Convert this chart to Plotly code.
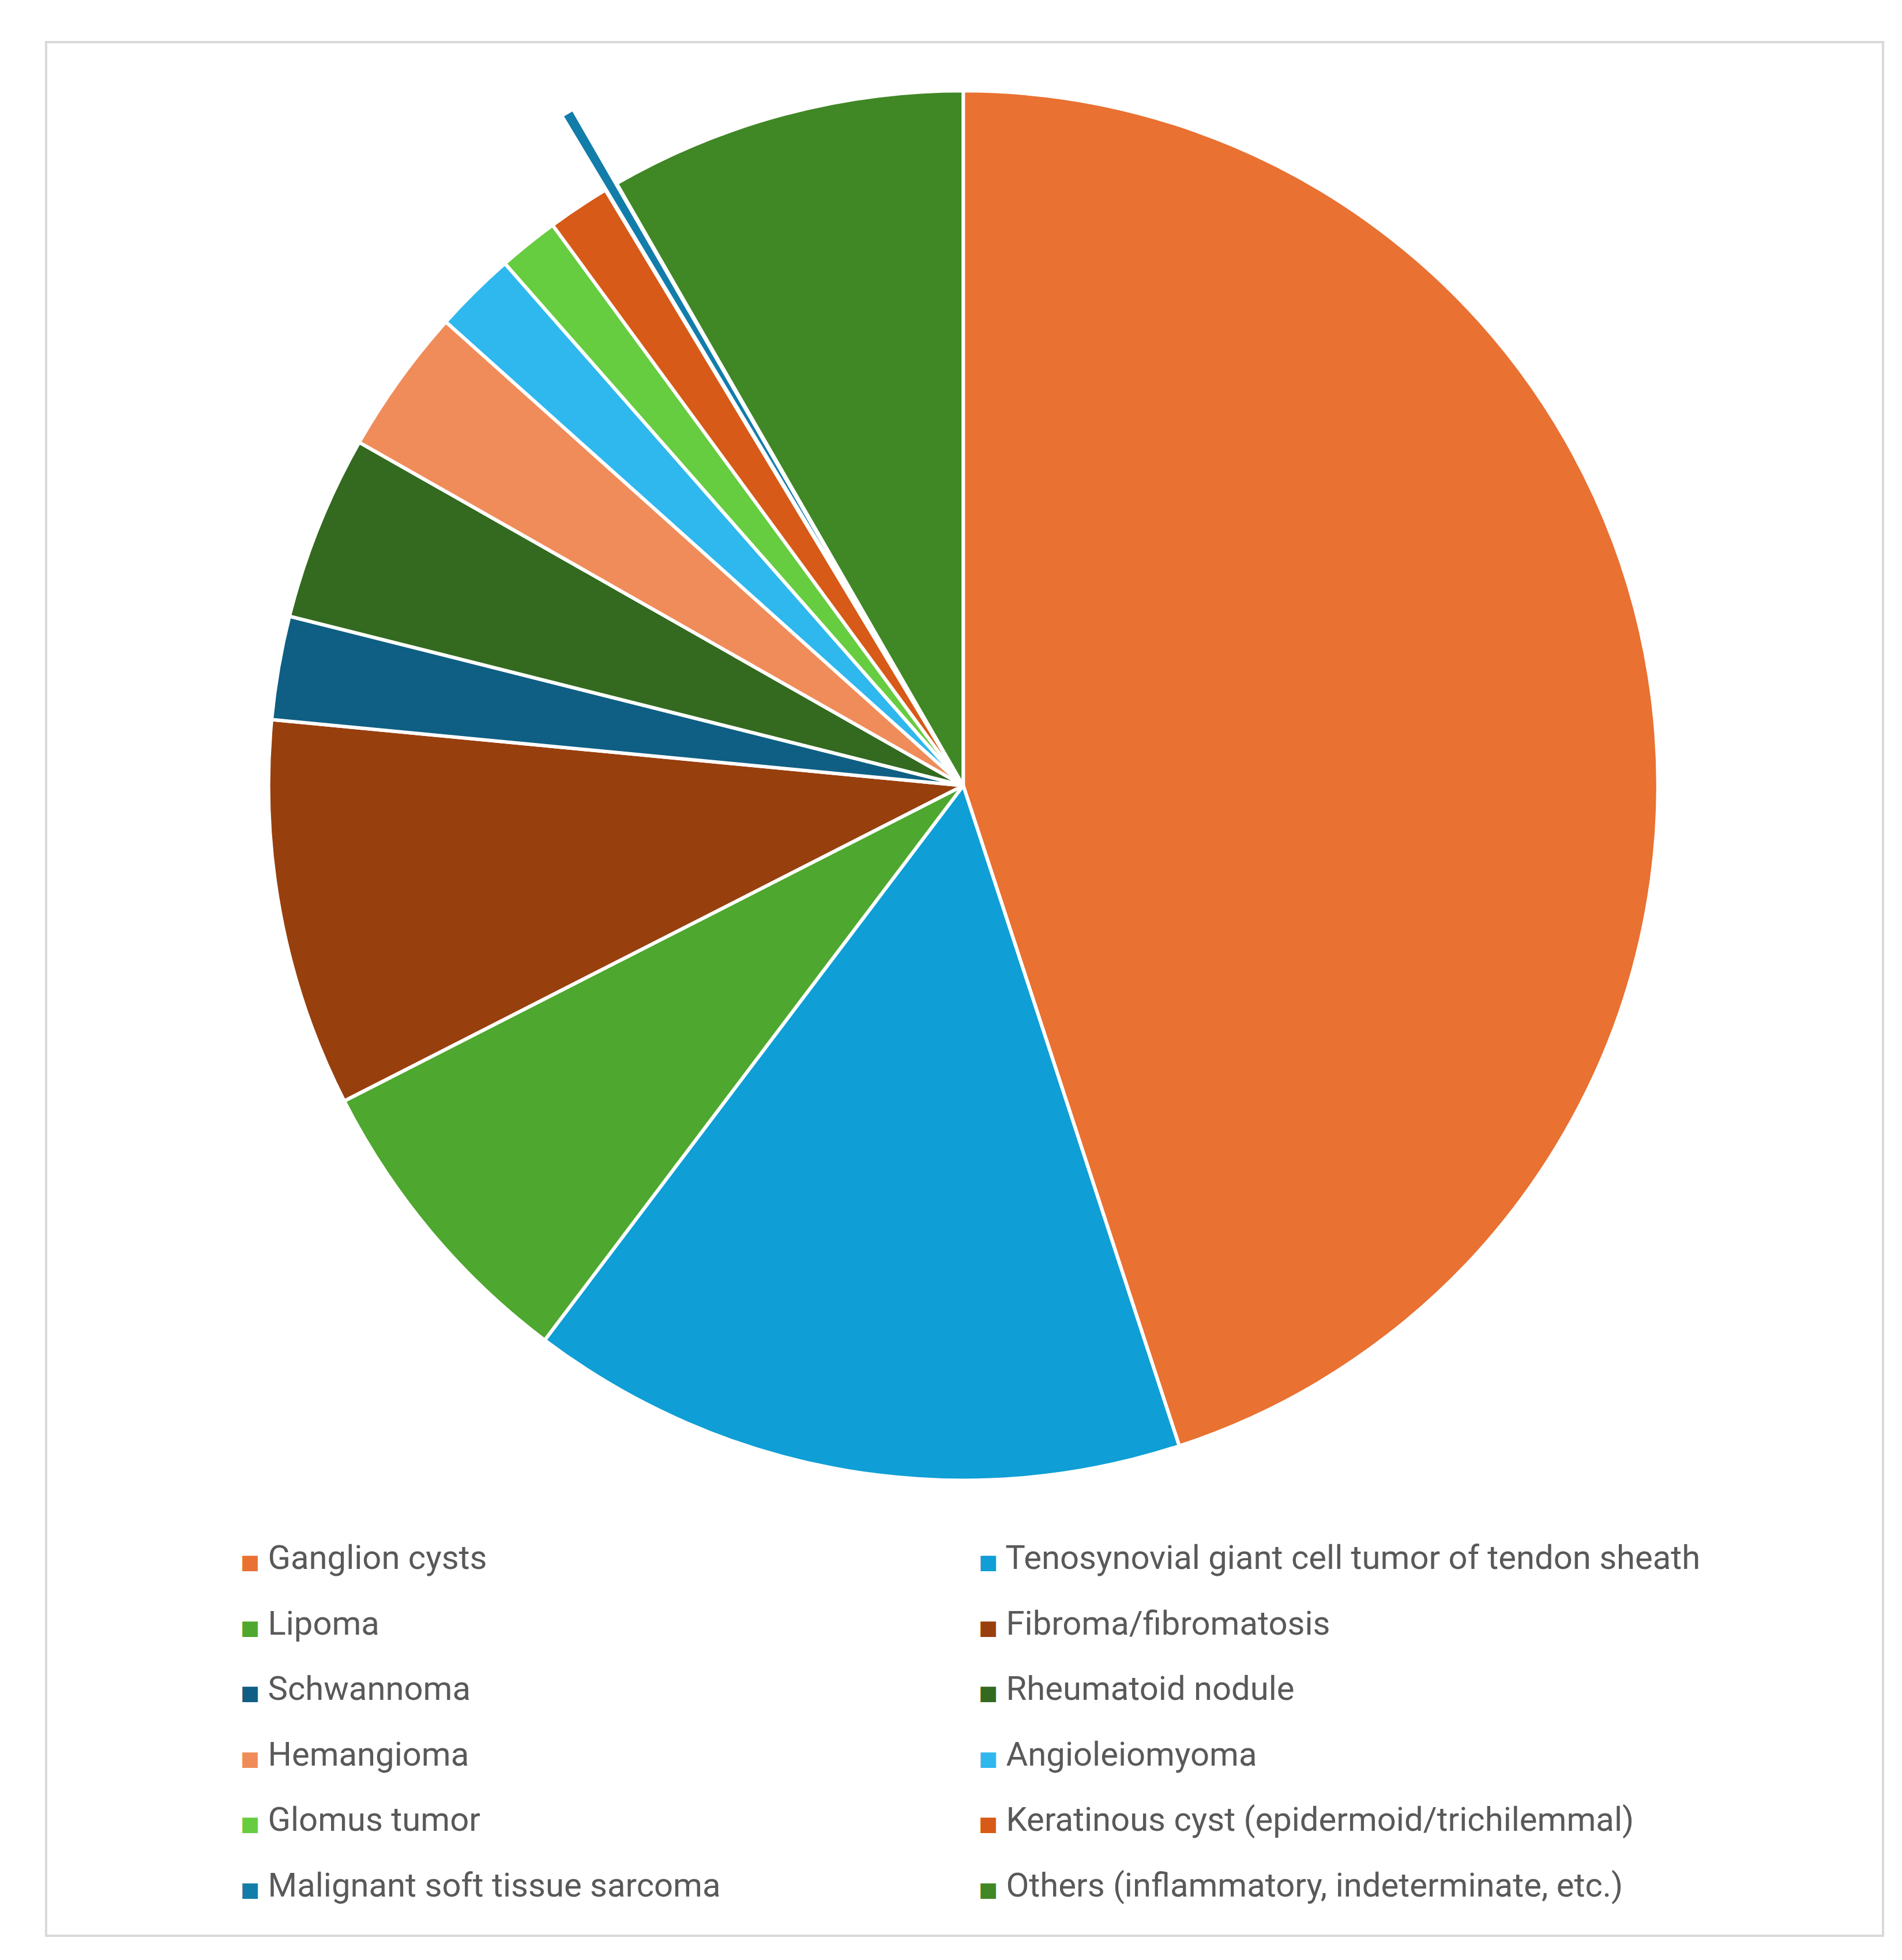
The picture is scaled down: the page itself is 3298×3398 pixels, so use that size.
import plotly.graph_objects as go

labels = [
    "Ganglion cysts",
    "Tenosynovial giant cell tumor of tendon sheath",
    "Lipoma",
    "Fibroma/fibromatosis",
    "Schwannoma",
    "Rheumatoid nodule",
    "Hemangioma",
    "Angioleiomyoma",
    "Glomus tumor",
    "Keratinous cyst (epidermoid/trichilemmal)",
    "Malignant soft tissue sarcoma",
    "Others (inflammatory, indeterminate, etc.)",
]
# share of cases (%)
share = [44.9, 15.3, 7.2, 9.0, 2.4, 4.3, 3.4, 1.9, 1.4, 1.45, 0.3, 8.3]

colors = ["#E97132", "#0F9ED5", "#4EA72E", "#983F0E", "#0F5F84", "#336A1F",
          "#F08C5A", "#2EB8EE", "#66CC40", "#D75A18", "#137DAA", "#408726"]

# only the sarcoma slice is exploded
pull = [0.124 if l.startswith("Malignant") else 0 for l in labels]

W, H = 3298, 3398
dom = dict(x=[0.008, 1.0], y=[0.2031, 1.0])

# Excel-like legend: coloured square + grey text; rows are spaced wider than
# one plotly line, so the legend font is large and the text is set smaller
legend_labels = [
    '<span style="font-family:DejaVu Sans;font-size:35px;color:%s">\u25A0</span>'
    '<span style="font-size:58px"> %s</span>' % (c, l)
    for c, l in zip(colors, labels)
]

fig = go.Figure()

# two white copies under the chart carry the two legend columns
for col, leg in [(0, "legend"), (1, "legend2")]:
    fig.add_trace(go.Pie(
        labels=legend_labels[col::2],
        values=share[col::2],
        sort=False,
        direction="clockwise",
        textinfo="none",
        hoverinfo="skip",
        legend=leg,
        marker=dict(colors=["white"] * len(labels[col::2]), line=dict(width=0)),
        domain=dom,
    ))

fig.add_trace(go.Pie(
    labels=labels,
    values=share,
    sort=False,
    direction="clockwise",
    rotation=0,
    pull=pull,
    textinfo="none",
    hoverinfo="label+percent",
    showlegend=False,
    marker=dict(colors=colors, line=dict(color="white", width=6)),
    domain=dom,
))

# light grey frame round the chart
fig.add_shape(type="rect", xref="paper", yref="paper",
              x0=0.0218, x1=0.9876, y0=0.0147, y1=0.9809,
              line=dict(color="#D9D9D9", width=4))

legend_style = dict(
    orientation="v",
    yanchor="top", y=0.2298,
    xanchor="left",
    font=dict(size=85, color="#595959", family="Roboto"),
    bgcolor="rgba(0,0,0,0)",
)

fig.update_layout(
    width=W, height=H,
    margin=dict(l=0, r=0, t=0, b=0),
    paper_bgcolor="white",
    plot_bgcolor="white",
    font=dict(family="Roboto", color="#595959"),
    legend=dict(x=0.1119, **legend_style),
    legend2=dict(x=0.5, **legend_style),
)

fig.write_html("out.html")
